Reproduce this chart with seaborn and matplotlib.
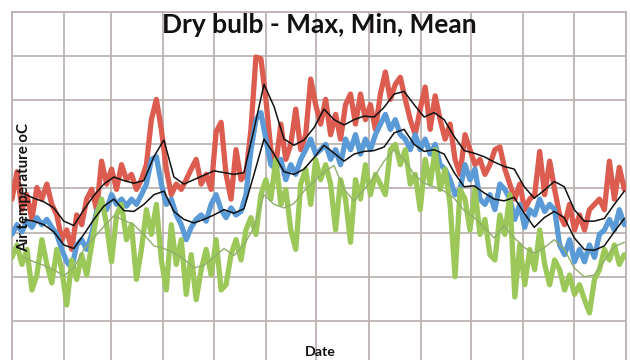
import matplotlib
matplotlib.use("Agg")
import matplotlib.pyplot as plt
import matplotlib.dates as mdates
import numpy as np
import pandas as pd
import seaborn as sns

# ---- data ----
t_max = [18.8, 21.9, 17.6, 19.3, 16.5, 20.1, 18.8, 20.5, 18.2, 17.0, 14.2, 15.3, 13.1, 17.0, 15.9, 18.8,
         19.9, 17.6, 23.1, 20.5, 22.2, 19.9, 22.7, 21.0, 21.6, 19.9, 21.0, 22.7, 27.8, 30.1, 26.7, 22.2,
         19.3, 20.5, 19.9, 21.0, 22.2, 23.3, 20.5, 21.6, 19.9, 26.4, 27.5, 21.6, 18.8, 24.4, 21.0, 21.6,
         26.7, 34.9, 34.7, 30.1, 24.4, 22.7, 27.3, 23.3, 25.0, 29.0, 24.4, 26.1, 32.4, 29.5, 27.3,
         30.1, 26.1, 28.4, 25.6, 29.5, 30.7, 27.3, 30.7, 27.8, 29.5, 26.7, 30.7, 33.2, 30.1, 31.8, 32.6,
         30.1, 27.8, 26.1, 29.0, 31.5, 26.7, 30.5, 27.8, 25.6, 27.3, 23.3, 21.6, 26.1, 24.4,
         22.7, 23.3, 21.6, 22.7, 24.4, 24.7, 22.2, 20.5, 18.8, 20.5, 17.6, 18.8, 19.3, 24.2, 19.3, 23.1,
         19.9, 17.0, 15.9, 18.2, 15.3, 17.0, 15.3, 17.6, 18.2, 18.8, 17.6, 23.1, 18.8, 22.4, 19.9]
t_mean = [14.8, 15.9, 15.1, 16.3, 15.6, 16.7, 15.9, 16.5, 15.6, 14.8, 13.1, 11.7, 11.0, 13.6, 14.2, 13.1,
          14.8, 17.4, 18.2, 17.6, 19.3, 18.2, 18.8, 18.0, 18.8, 18.2, 19.3, 20.5, 23.3, 23.6, 20.5, 18.2,
          18.8, 17.0, 15.9, 14.2, 15.6, 16.5, 17.0, 16.3, 18.2, 19.3, 17.6, 16.7, 17.8, 17.0, 17.4, 19.3,
          24.4, 27.8, 28.6, 25.6, 22.7, 22.2, 23.3, 21.0, 22.7, 21.6, 23.3, 24.4, 25.6, 23.9, 24.4,
          25.0, 23.3, 24.4, 22.7, 25.6, 24.4, 26.1, 23.9, 25.6, 24.4, 26.1, 27.3, 28.4, 26.7, 27.8, 26.1,
          25.6, 24.4, 26.1, 24.4, 25.6, 23.9, 25.0, 22.7, 22.2, 21.0, 19.3, 19.9, 22.7, 21.0,
          22.2, 18.8, 18.2, 19.3, 17.6, 20.5, 19.9, 18.8, 16.5, 18.2, 15.6, 17.6, 17.0, 18.8, 17.4, 18.2,
          17.6, 13.6, 12.5, 14.2, 11.7, 13.1, 11.7, 13.6, 12.2, 14.8, 15.3, 16.5, 15.3, 17.6, 15.9]
t_min = [12.2, 13.6, 11.4, 13.1, 8.5, 10.2, 14.2, 11.4, 9.3, 13.1, 10.8, 6.8, 11.9, 9.7, 12.5, 10.2,
         13.6, 17.0, 18.8, 15.9, 11.7, 17.0, 18.2, 14.2, 15.9, 9.7, 13.1, 17.6, 14.8, 18.2, 11.9, 8.5,
         15.9, 11.4, 14.2, 8.0, 12.5, 7.4, 10.8, 13.1, 10.2, 14.2, 8.5, 9.1, 12.5, 14.2, 11.9, 15.3,
         16.7, 14.8, 19.3, 21.0, 18.8, 23.3, 18.2, 19.9, 15.3, 13.1, 20.5, 22.2, 18.2, 23.3, 21.0,
         22.7, 20.5, 15.3, 21.0, 18.8, 13.9, 21.0, 18.8, 22.7, 19.3, 21.6, 20.5, 19.3, 24.4, 25.0, 22.7,
         24.4, 20.5, 21.6, 17.6, 23.3, 20.5, 24.4, 19.9, 22.2, 18.2, 10.0, 19.9, 18.8, 15.3,
         19.9, 14.8, 16.5, 12.5, 11.9, 17.0, 14.8, 19.3, 7.7, 13.6, 9.1, 13.1, 10.8, 15.3, 11.4, 9.1,
         11.9, 10.8, 8.5, 10.2, 8.0, 9.1, 7.4, 5.9, 9.7, 10.8, 13.1, 11.9, 13.6, 11.4, 12.5]

max_smooth = [19.4, 18.9, 18.5, 17.8, 16.3, 15.8, 17.6, 19.2, 20.5, 21.3, 20.9, 20.6, 20.9, 23.6, 25.5,
              21.3, 20.5, 21.0, 21.5, 22.0, 21.8, 21.6, 21.8, 26.7, 31.8, 29.3, 25.6, 24.9, 25.5, 26.9,
              29.0, 27.8, 27.2, 27.8, 28.2, 28.1, 29.2, 30.7, 31.0, 29.5, 28.1, 28.6, 27.8, 25.9, 24.3,
              24.0, 23.6, 23.0, 22.5, 22.2, 20.2, 18.9, 19.8, 20.8, 20.2, 17.6, 16.3, 16.3, 16.6, 18.2, 19.7]
mean_smooth = [16.5, 16.3, 15.9, 15.1, 13.6, 13.2, 14.8, 16.5, 18.0, 18.8, 17.5, 17.4, 18.2, 19.3, 19.7,
               17.4, 16.5, 16.1, 16.5, 17.0, 17.6, 17.2, 17.7, 21.6, 25.6, 23.9, 21.9, 21.6, 22.2, 23.5,
               24.9, 24.0, 23.1, 23.9, 24.2, 24.3, 24.7, 26.3, 26.7, 25.0, 24.2, 24.4, 23.9, 21.8, 20.2,
               20.3, 19.5, 18.8, 18.6, 19.0, 17.2, 15.6, 16.7, 17.4, 16.7, 14.4, 13.1, 13.0, 13.5, 15.1, 16.6]
min_smooth = [12.2, 11.7, 11.3, 10.8, 10.1, 11.0, 13.1, 14.4, 15.7, 16.9, 16.4, 15.9, 14.8, 13.5, 13.2,
              12.7, 12.0, 11.0, 11.3, 12.2, 13.2, 12.4, 13.6, 15.6, 19.3, 18.2, 17.8, 18.3, 19.7, 20.8,
              21.9, 22.6, 19.9, 18.6, 19.9, 21.3, 23.1, 24.4, 23.3, 21.6, 20.6, 20.2, 19.7, 18.9, 17.5,
              16.7, 15.6, 14.4, 15.8, 14.4, 13.3, 12.7, 13.3, 14.2, 13.1, 11.0, 10.0, 10.2, 11.8, 13.4, 13.9]

dates = pd.date_range("2013-01-01", "2013-12-31", periods=len(t_max))
smooth_dates = pd.date_range("2013-01-08", "2013-12-31", periods=len(max_smooth))

title = "Dry bulb - Max, Min, Mean"
ylabel = "Air temperature oC"
xlabel = "Date"

# ---- figure ----
sns.set_style("white")
plt.rcParams["font.family"] = ["Lato", "DejaVu Sans"]

fig = plt.figure(figsize=(6.3, 3.6), dpi=100)
top_px, bottom_px, left_px, right_px = 12, 365, 12, 626
ax = fig.add_axes([left_px / 630, 1 - bottom_px / 360,
                   (right_px - left_px) / 630, (bottom_px - top_px) / 360])

RED = "#dc5c50"
BLUE = "#5a9ad6"
GREEN = "#9cc85a"

sns.lineplot(x=dates, y=t_max, ax=ax, color=RED, lw=3.8, zorder=3)
sns.lineplot(x=dates, y=t_mean, ax=ax, color=BLUE, lw=3.8, zorder=4)
sns.lineplot(x=dates, y=t_min, ax=ax, color=GREEN, lw=3.8, zorder=5)
sns.lineplot(x=smooth_dates, y=min_smooth, ax=ax, color="#8fae6a", lw=1.0, zorder=6)
sns.lineplot(x=smooth_dates, y=max_smooth, ax=ax, color="#111111", lw=1.1, zorder=7)
sns.lineplot(x=smooth_dates, y=mean_smooth, ax=ax, color="#111111", lw=1.1, zorder=7)

ax.set_xlim(pd.Timestamp("2013-01-01"), pd.Timestamp("2014-01-01"))
ax.set_ylim(0, 40)
ax.yaxis.set_major_locator(matplotlib.ticker.MultipleLocator(5))
ax.xaxis.set_major_locator(mdates.MonthLocator())
ax.grid(True, color="#bdb3b3", lw=1.3)
ax.tick_params(left=False, bottom=False, labelleft=False, labelbottom=False)
for s in ax.spines.values():
    s.set_color("#bdb3b3")
    s.set_linewidth(1.3)
ax.set_xlabel("")
ax.set_ylabel("")

fig.text(319 / 630, 1 - 25 / 360, title, ha="center", va="center",
         fontsize=19, fontweight="bold", color="#111111")
fig.text(24 / 630, 1 - 187 / 360, ylabel, ha="center", va="center", rotation=90,
         fontsize=10.8, fontweight="bold", color="#111111")
fig.text(320 / 630, 1 - 352 / 360, xlabel, ha="center", va="center",
         fontsize=10.2, fontweight="bold", color="#111111")

fig.savefig("out.png", dpi=100)
